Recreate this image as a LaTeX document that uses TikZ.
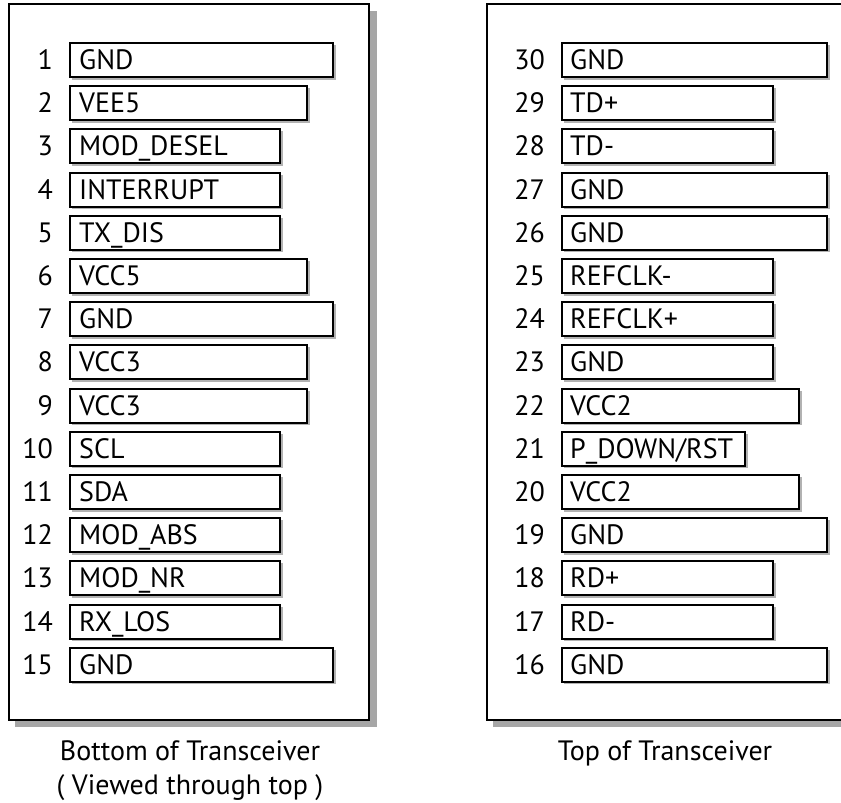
\documentclass[tikz,border=0pt]{standalone}
\usepackage{fontspec}
\setmainfont{PT Sans}
\begin{document}
\begin{tikzpicture}[x=1pt,y=-1pt,
  panel/.style={draw=black,line width=2.2pt,fill=white},
  pshadow/.style={fill=black!35,draw=none},
  pinbox/.style={draw=black,line width=2pt,fill=white},
  pinshadow/.style={fill=black!30,draw=none},
  pinlabel/.style={anchor=base west,font=\fontsize{28}{30}\selectfont,inner sep=0pt},
  pinnum/.style={anchor=base east,font=\fontsize{28}{30}\selectfont,inner sep=0pt},
  caption/.style={anchor=base,font=\fontsize{28}{30}\selectfont,inner sep=0pt}]
\useasboundingbox (0,0) rectangle (841,803);
\clip (0,0) rectangle (841,803);

% panels with drop shadow
\fill[pshadow] (15,11) rectangle (377,727);
\draw[panel] (9,4) rectangle (369,720);
\fill[pshadow] (493,11) rectangle (860,727);
\draw[panel] (487,4) rectangle (852,720);

% pin rows: number / label / right edge of the box
\foreach \n/\lab/\r [count=\i from 0] in {1/GND/333, 2/VEE5/307, 3/MOD\_DESEL/280,
  4/INTERRUPT/280, 5/TX\_DIS/280, 6/VCC5/307, 7/GND/333, 8/VCC3/307, 9/VCC3/307,
  10/SCL/280, 11/SDA/280, 12/MOD\_ABS/280, 13/MOD\_NR/280, 14/RX\_LOS/280, 15/GND/333}{
  \pgfmathsetmacro{\yc}{60+43.2*\i}
  \fill[pinshadow] (72,\yc-15) rectangle (\r+2.5,\yc+19.5);
  \draw[pinbox] (70,\yc-17) rectangle (\r,\yc+17);
  \node[pinlabel] (L\n) at (79,\yc+9.5) {\lab};
  \node[pinnum] (N\n) at (53,\yc+9.5) {\n};
}
\foreach \n/\lab/\r [count=\i from 0] in {30/GND/827, 29/TD+/773, 28/TD-/773,
  27/GND/827, 26/GND/827, 25/REFCLK-/773, 24/REFCLK+/773, 23/GND/773, 22/VCC2/799,
  21/P\_DOWN\slash RST/745, 20/VCC2/799, 19/GND/827, 18/RD+/773, 17/RD-/773, 16/GND/827}{
  \pgfmathsetmacro{\yc}{60+43.2*\i}
  \fill[pinshadow] (564,\yc-15) rectangle (\r+2.5,\yc+19.5);
  \draw[pinbox] (562,\yc-17) rectangle (\r,\yc+17);
  \node[pinlabel] (L\n) at (570,\yc+9.5) {\lab};
  \node[pinnum] (N\n) at (545,\yc+9.5) {\n};
}

\node[caption] (capB) at (190,760) {Bottom of Transceiver};
\node[caption] (capB2) at (190,794) {( Viewed through top )};
\node[caption] (capT) at (665,760) {Top of Transceiver};
\end{tikzpicture}
\end{document}
